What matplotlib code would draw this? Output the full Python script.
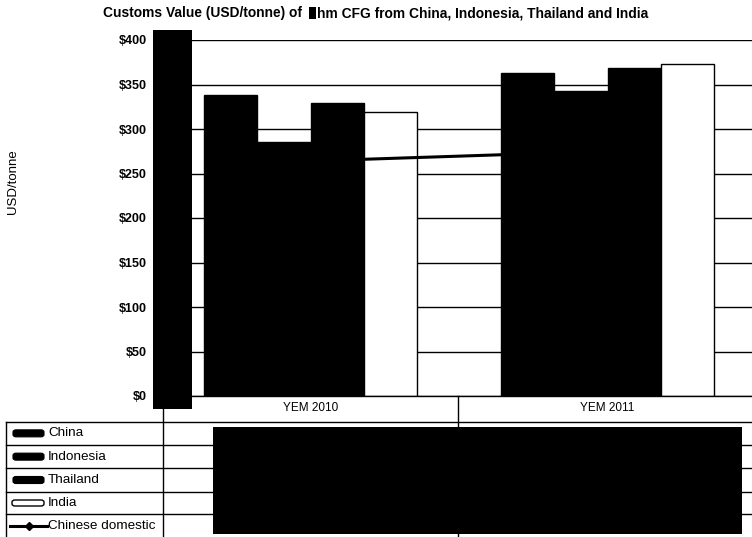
import matplotlib
matplotlib.use("Agg")
import matplotlib.pyplot as plt
from matplotlib.patches import Rectangle, FancyBboxPatch
from matplotlib.lines import Line2D
import numpy as np

plt.rcParams['font.family'] = ['Liberation Sans', 'DejaVu Sans']

categories = ["YEM 2010", "YEM 2011"]
series_names = ["China", "Indonesia", "Thailand", "India"]
china = [338, 363]
indonesia = [285, 343]
thailand = [329, 368]
india = [319, 373]
chinese_domestic = [264, 275]
line_name = "Chinese domestic"
yticks = [0, 50, 100, 150, 200, 250, 300, 350, 400]
title_left = "Customs Value (USD/tonne) of "
title_right = "hm CFG from China, Indonesia, Thailand and India"
ylabel = "USD/tonne"

W, H = 752, 537
fig = plt.figure(figsize=(W / 100, H / 100), dpi=100)

def fx(px):
    return px / W

def fy(py):
    return 1 - py / H

ax_left, ax_right, ax_top, ax_bottom = 162, 752, 40, 396
ax = fig.add_axes([fx(ax_left), fy(ax_bottom), fx(ax_right - ax_left), (ax_bottom - ax_top) / H])
ax.set_xlim(-0.5, -0.5 + (ax_right - ax_left) / 297)
ax.set_ylim(0, 400)

x = np.arange(len(categories))
bw = 0.18
fills = ["black", "black", "black", "white"]
for i, (vals, fc) in enumerate(zip([china, indonesia, thailand, india], fills)):
    ax.bar(x + (i - 1.5) * bw, vals, width=bw, color=fc, edgecolor="black",
           linewidth=1.0, zorder=2)
ax.plot(x, chinese_domestic, color="black", linewidth=2.2, marker="D",
        markersize=4, zorder=3)

ax.set_yticks(yticks)
ax.yaxis.grid(True, color="black", linewidth=1.0, zorder=0)
ax.set_axisbelow(True)
ax.set_yticklabels([f"${v}" for v in yticks], fontsize=9, fontweight="bold")
ax.tick_params(axis="y", length=0, pad=10.8)
ax.set_xticks([])
for s in ["top", "right", "left"]:
    ax.spines[s].set_visible(False)
ax.spines["bottom"].set_linewidth(1.0)

# category labels
for i, c in enumerate(categories):
    ax.text(x[i], -12 * 400 / 356, c, ha="center", va="center", fontsize=8.5)

fig.text(fx(13), fy(182), ylabel, rotation=90, ha="center", va="center", fontsize=9.5)

# title
t1 = fig.text(fx(103), fy(13.5), title_left, ha="left", va="center",
              fontsize=9.9, fontweight="bold")
fig.canvas.draw()
bb = t1.get_window_extent()
box_x = bb.x1 + 3
fig.patches.append(Rectangle((box_x / W, fy(19)), 7 / W, 12 / H, transform=fig.transFigure,
                             facecolor="black", edgecolor="none"))
fig.text((box_x + 8) / W, fy(13.5), title_right, ha="left", va="center",
         fontsize=9.9, fontweight="bold")

# data table lines
def hline(y, x0, x1, lw=1.0):
    fig.add_artist(Line2D([fx(x0), fx(x1)], [fy(y), fy(y)], color="black",
                          linewidth=lw, transform=fig.transFigure))

def vline(xp, y0, y1, lw=1.0):
    fig.add_artist(Line2D([fx(xp), fx(xp)], [fy(y0), fy(y1)], color="black",
                          linewidth=lw, transform=fig.transFigure))

row_tops = [421.7, 445, 468.3, 491.7, 514.3, 537.5]
for y in row_tops:
    hline(y, 6, 752)
vline(6, 421.7, 537)
vline(162.7, 396, 537)
vline(458, 396, 537)

# legend keys + labels inside the table
names = series_names + [line_name]
for i, name in enumerate(names):
    yc = (row_tops[i] + row_tops[i + 1]) / 2
    if i < 3:
        fig.patches.append(FancyBboxPatch((fx(13), fy(yc + 3.5)), 31 / W, 7 / H,
                                          boxstyle="round,pad=0,rounding_size=0.004",
                                          transform=fig.transFigure,
                                          facecolor="black", edgecolor="black", linewidth=0.8))
    elif i == 3:
        fig.patches.append(FancyBboxPatch((fx(12), fy(yc + 3)), 32 / W, 6 / H,
                                          boxstyle="round,pad=0,rounding_size=0.004",
                                          transform=fig.transFigure,
                                          facecolor="white", edgecolor="black", linewidth=1.0))
    else:
        fig.add_artist(Line2D([fx(10), fx(47)], [fy(yc), fy(yc)], color="black",
                              linewidth=2.2, transform=fig.transFigure))
        fig.add_artist(Line2D([fx(29)], [fy(yc)], color="black", marker="D",
                              markersize=4.5, transform=fig.transFigure))
    fig.text(fx(48), fy(yc), name, ha="left", va="center", fontsize=9.7)

# redaction blocks
fig.patches.append(Rectangle((fx(153), fy(409)), 39 / W, (409 - 30) / H,
                             transform=fig.transFigure, facecolor="black",
                             edgecolor="none", zorder=10))
fig.patches.append(Rectangle((fx(213), fy(534)), (742 - 213) / W, (534 - 427) / H,
                             transform=fig.transFigure, facecolor="black",
                             edgecolor="none", zorder=10))

fig.savefig("out.png", dpi=100)
